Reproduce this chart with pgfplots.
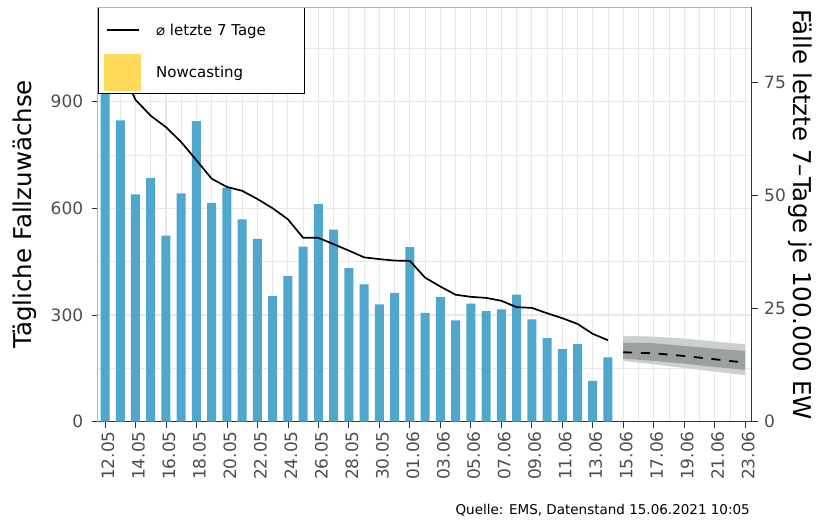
\documentclass[border=0pt]{standalone}
\usepackage{fontspec}
\setmainfont{DejaVu Sans}
\usepackage{pgfplots}
\pgfplotsset{compat=1.18}

\definecolor{barblue}{RGB}{79,168,204}
\definecolor{nowyellow}{RGB}{255,217,90}
\definecolor{bandlight}{RGB}{204,209,205}
\definecolor{banddark}{RGB}{156,161,157}
\definecolor{gridgray}{RGB}{232,232,232}
\definecolor{tickgray}{RGB}{77,77,77}
\definecolor{axisdark}{RGB}{51,51,51}

\newcommand{\labfont}{\fontsize{24.5}{27}\selectfont}

\pgfplotsset{
  panel/.style={
    scale only axis, width=654pt, height=414.4pt,
    at={(0,0)}, anchor=south west,
    xmin=-0.48, xmax=42.43,
    tick align=outside, major tick length=6pt, minor tick length=0pt,
    every tick/.style={axisdark, line width=0.8pt},
    tick label style={font=\fontsize{17}{19}\selectfont, text=tickgray},
    /pgf/number format/assume math mode=true,
  }
}

\begin{document}
\begin{tikzpicture}
\path[use as bounding box] (-97.7pt,-99.3pt) rectangle (723.3pt,421.7pt);

\begin{axis}[panel,
  ymin=0, ymax=1165,
  axis x line*=bottom, axis y line*=left,
  x axis line style={axisdark, line width=0.8pt},
  y axis line style={gray!60, line width=0.6pt},
  xtick={0,2,...,42}, minor xtick={1,3,...,41},
  xticklabels={12.05,14.05,16.05,18.05,20.05,22.05,24.05,26.05,28.05,30.05,
    01.06,03.06,05.06,07.06,09.06,11.06,13.06,15.06,17.06,19.06,21.06,23.06},
  xticklabel style={rotate=90, anchor=east, yshift=-3pt},
  ytick={0,300,600,900}, minor ytick={150,450,750,1050},
  yticklabel style={xshift=-5pt},
  grid=both,
  major grid style={gridgray, line width=1.1pt},
  minor grid style={gridgray, line width=0.8pt},
  ylabel={Tägliche Fallzuwächse},
  every axis y label/.style={at={([xshift=-65.7pt]rel axis cs:0,0.5)},
    rotate=90, anchor=base, font=\labfont},
  legend style={at={(0,1)}, anchor=north west, draw=black, line width=0.8pt,
    fill=white, inner xsep=6.3pt, inner ysep=3pt, row sep=4pt,
    font=\fontsize{15}{17}\selectfont, cells={anchor=west},
    /tikz/every odd column/.append style={column sep=13pt}},
]
% daily new cases
\addplot[ybar, bar width=9pt, fill=barblue, draw=none, forget plot] coordinates {
  (0,1050) (1,847) (2,639) (3,685) (4,523) (5,642) (6,845) (7,615) (8,658) (9,569)
  (10,514) (11,353) (12,409) (13,492) (14,612) (15,540) (16,432) (17,386) (18,330) (19,362)
  (20,491) (21,306) (22,350) (23,285) (24,332) (25,311) (26,316) (27,357) (28,288) (29,235)
  (30,204) (31,218) (32,115) (33,181)
};
% nowcasting: outer and inner band (upper edge, then lower edge backwards)
\addplot[fill=bandlight, draw=none, forget plot] coordinates {
  (34,241.1) (36,239.2) (38,233.6) (40,225.2) (42,217.7)
  (42,130.5) (40,140.8) (38,151.1) (36,161.4) (34,170.8)};
\addplot[fill=banddark, draw=none, forget plot] coordinates {
  (34,222.4) (36,220.5) (38,213.0) (40,205.5) (42,199.0)
  (42,145.5) (40,153.9) (38,163.3) (36,170.8) (34,177.4)};
\addplot[black, line width=1.8pt, dash pattern=on 9pt off 8.7pt, forget plot] coordinates {
  (34,195.2) (36,192.3) (38,184.8) (40,175.5) (42,166.1)};
% 7-day mean
\addplot[black, line width=1.7pt, forget plot] coordinates {
  (0,1035) (1,1000) (2,905) (3,860) (4,828) (5,786) (6,735) (7,683) (8,660) (9,649)
  (10,626) (11,600) (12,569) (13,517) (14,517) (15,499) (16,481) (17,462) (18,457) (19,453)
  (20,452) (21,405) (22,380) (23,357) (24,351) (25,348) (26,340) (27,322) (28,320) (29,305)
  (30,291) (31,275) (32,247) (33,229)
};
\addlegendimage{legend image code/.code={
  \path[draw=none, fill=none] (-2pt,-19.5pt) rectangle (34pt,19.5pt);
  \draw[black, line width=1.7pt] (0pt,0pt) -- (32pt,0pt);}}
\addlegendentry{\makebox[140pt][l]{⌀ letzte 7 Tage}}
\addlegendimage{legend image code/.code={
  \fill[nowyellow] (-2pt,-18pt) rectangle (34pt,18pt);}}
\addlegendentry{\makebox[140pt][l]{Nowcasting}}
\end{axis}

\begin{axis}[panel,
  ymin=0, ymax=91.68,
  axis y line*=right, axis x line*=top,
  y axis line style={axisdark, line width=0.8pt},
  x axis line style={gray!60, line width=0.6pt},
  xtick=\empty, ytick={0,25,50,75},
  yticklabel style={xshift=3pt},
  ylabel={Fälle letzte 7–Tage je 100.000 EW},
  every axis y label/.style={at={([xshift=41.3pt]rel axis cs:1,0.5)},
    rotate=-90, anchor=base, font=\labfont},
]
\addplot[draw=none, forget plot] coordinates {(0,0) (42,0)};
\end{axis}

\node[anchor=base east, inner sep=0pt, font=\fontsize{13.5}{15}\selectfont]
  at (652.3pt,-93.3pt) {Quelle: EMS, Datenstand 15.06.2021 10:05};
\end{tikzpicture}
\end{document}
